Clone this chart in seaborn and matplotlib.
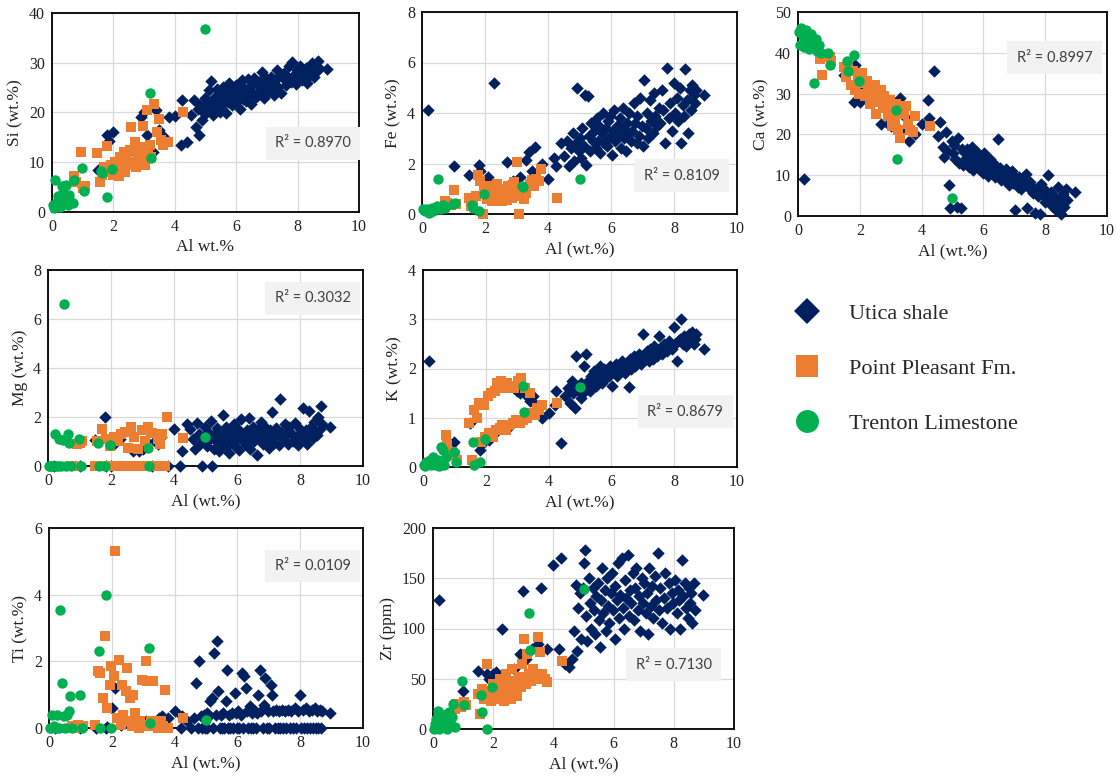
import pandas as pd
import seaborn as sns
import matplotlib.pyplot as plt
from matplotlib.lines import Line2D

# Utica shale samples (Al first, then each element for the same samples)
utica_al = [0.2, 1.0, 1.5, 1.8, 1.85, 2.0, 2.1, 2.3, 2.7, 2.9, 3.0, 3.1, 3.3, 3.4, 3.5, 3.6, 3.8, 4.0, 4.2, 4.25, 4.4,
            4.52, 4.61, 4.68, 4.74, 4.79, 4.83, 4.88, 4.93, 4.97, 5.02,
            5.04, 5.09, 5.13, 5.18, 5.21, 5.26, 5.31, 5.34, 5.38, 5.43,
            5.47, 5.52, 5.55, 5.58, 5.63, 5.66, 5.71, 5.74, 5.78, 5.83,
            5.86, 5.91, 5.94, 5.98, 6.03, 6.06, 6.11, 6.14, 6.19, 6.22,
            6.27, 6.31, 6.34, 6.39, 6.42, 6.47, 6.51, 6.55, 6.58, 6.63,
            6.67, 6.72, 6.76, 6.81, 6.84, 6.89, 6.93, 6.97, 7.02, 7.06,
            7.11, 7.14, 7.19, 7.23, 7.28, 7.32, 7.37, 7.41, 7.46, 7.51,
            7.55, 7.61, 7.66, 7.72, 7.78, 7.83, 7.88, 7.94, 7.99, 8.04,
            8.09, 8.13, 8.18, 8.22, 8.27, 8.31, 8.36, 8.41, 8.46, 8.51,
            8.55, 8.58, 8.62, 8.66, 8.71, 8.96]
utica_si = [1.5, 5.0, 8.5, 15.5, 14.2, 16.0, 9.0, 10.0, 12.0, 19.0, 20.0, 15.5, 12.0, 20.5, 16.5, 15.2, 19.0, 19.2, 13.5, 22.5, 14.0,
            19.5, 22.5, 17.0, 20.8, 15.5, 21.5, 18.5, 20.2, 23.0, 19.8,
            21.8, 20.5, 24.5, 26.3, 22.0, 19.5, 23.2, 21.0, 24.8, 22.6,
            20.2, 23.6, 21.5, 25.2, 22.9, 19.8, 24.0, 22.2, 26.0, 23.1,
            21.6, 24.6, 23.0, 25.5, 22.3, 24.2, 20.8, 23.8, 26.5, 22.7,
            25.0, 22.4, 24.4, 26.8, 23.5, 21.8, 25.6, 24.0, 27.0, 23.2,
            25.8, 23.6, 26.4, 24.5, 28.2, 22.9, 25.1, 27.0, 24.2, 26.2,
            24.6, 27.2, 25.9, 23.5, 26.6, 28.5, 25.2, 27.4, 24.0, 26.9,
            28.0, 25.6, 27.1, 29.3, 26.2, 30.2, 27.5, 25.8, 28.6, 27.0,
            29.4, 26.5, 28.3, 27.2, 29.0, 26.0, 28.7, 27.6, 30.0, 28.0,
            27.2, 29.5, 28.4, 30.3, 28.9, 28.7]
utica_fe = [4.1, 1.9, 1.55, 1.95, 1.7, 1.2, 1.45, 5.2, 2.05, 1.3, 1.2, 1.45, 2.15, 2.45, 1.7, 2.65, 2.0, 1.4, 2.2, 1.9, 2.8,
            2.3, 2.9, 1.9, 2.6, 3.2, 2.1, 2.8, 5.0, 2.5, 3.0,
            2.2, 3.4, 2.7, 4.7, 1.95, 4.68, 3.1, 2.5, 3.6, 2.9,
            3.3, 2.6, 3.8, 2.9, 3.5, 2.4, 3.2, 4.0, 2.8, 3.4,
            2.7, 3.7, 3.0, 3.9, 2.35, 3.3, 4.1, 2.9, 3.5, 3.15,
            3.8, 2.6, 3.4, 4.2, 3.0, 2.5, 3.6, 3.2, 4.0, 2.9,
            3.3, 4.4, 3.6, 2.8, 3.9, 3.1, 4.6, 3.5, 2.7, 5.3,
            3.4, 4.0, 3.0, 4.5, 3.7, 3.2, 4.8, 3.9, 3.5, 4.2,
            3.6, 4.9, 4.1, 2.8, 5.8, 3.8, 4.4, 3.3, 5.2, 4.0,
            4.6, 3.7, 5.0, 2.8, 4.3, 3.9, 5.75, 4.5, 3.2, 4.9,
            4.1, 5.1, 4.7, 4.4, 4.9, 4.7]
utica_ca = [9.0, 38.5, 34.5, 28.0, 37.0, 28.0, 32.0, 30.0, 22.5, 22.5, 22.0, 22.5, 29.0, 21.0, 24.0, 18.5, 20.0, 22.5, 28.5, 24.0, 35.5,
            19.5, 23.0, 17.0, 14.5, 20.5, 16.0, 7.5, 2.0, 18.5, 15.5,
            17.5, 14.0, 2.2, 19.0, 13.0, 2.0, 16.5, 12.5, 15.8, 14.2,
            16.5, 12.0, 15.2, 13.5, 17.0, 11.2, 14.5, 13.0, 15.8, 12.4,
            11.5, 14.8, 12.8, 10.5, 15.5, 12.0, 13.4, 9.8, 12.5, 14.0,
            10.8, 13.0, 11.5, 9.5, 12.2, 18.8, 10.0, 11.8, 8.8, 10.6,
            9.2, 11.4, 8.4, 10.5, 7.5, 9.8, 11.0, 8.0, 1.5, 9.4,
            7.2, 9.5, 8.1, 6.5, 8.8, 7.6, 10.2, 2.0, 6.8, 8.3,
            7.4, 5.6, 0.8, 6.6, 4.8, 0.5, 7.8, 5.2, 3.5, 6.2,
            10.0, 4.4, 6.0, 2.5, 5.0, 3.6, 1.5, 7.0, 4.2, 0.5,
            3.0, 5.4, 2.2, 6.5, 4.0, 6.0]
utica_mg = [0.0, 0.0, 1.05, 2.0, 0.0, 0.0, 0.9, 1.1, 0.6, 0.6, 0.7, 1.0, 0.0, 1.0, 0.9, 1.2, 0.0, 1.5, 0.0, 0.6, 1.7,
            1.5, 1.1, 0.7, 1.75, 1.3, 0.9, 0.0, 1.2, 1.6, 1.0,
            0.8, 1.4, 1.1, 1.85, 0.0, 0.7, 1.3, 1.0, 1.55, 0.6,
            1.2, 0.9, 2.1, 1.35, 0.75, 1.6, 1.1, 0.55, 1.4, 0.95,
            1.25, 1.7, 0.8, 1.05, 1.5, 0.65, 1.3, 1.9, 1.0, 1.2,
            0.85, 1.45, 1.15, 1.95, 0.7, 1.3, 1.6, 1.0, 1.25, 0.45,
            1.5, 1.1, 1.8, 0.9, 1.35, 1.6, 1.0, 1.25, 0.75, 1.45,
            2.2, 1.2, 0.95, 1.55, 1.3, 0.85, 2.75, 1.4, 1.1, 1.7,
            1.25, 0.9, 1.6, 1.35, 1.0, 1.75, 1.2, 0.85, 1.5, 1.3,
            2.35, 1.1, 1.45, 0.9, 2.25, 1.3, 1.6, 1.15, 1.8, 1.4,
            1.25, 2.0, 1.5, 2.45, 1.7, 1.6]
utica_k = [2.15, 0.5, 0.9, 0.35, 0.45, 0.6, 0.55, 0.7, 0.8, 1.6, 1.55, 1.5, 1.45, 1.35, 1.45, 1.25, 1.0, 1.1, 1.25, 1.55, 0.48,
           1.45, 1.6, 1.3, 1.75, 1.5, 1.2, 2.25, 1.65, 1.55, 1.4,
           1.7, 1.5, 2.05, 2.3, 1.6, 1.75, 1.55, 1.85, 1.7, 1.95,
           1.8, 1.65, 1.95, 1.75, 2.05, 1.85, 1.7, 1.9, 2.0, 1.8,
           1.95, 1.85, 2.05, 1.9, 1.65, 2.0, 1.95, 2.1, 1.85, 2.0,
           2.05, 1.95, 2.15, 2.0, 1.9, 2.1, 2.05, 1.62, 2.2, 2.0,
           2.1, 2.25, 2.05, 2.2, 2.15, 2.3, 2.1, 2.2, 2.7, 2.25,
           2.2, 2.35, 2.15, 2.4, 2.3, 2.2, 2.45, 2.35, 2.25, 2.65,
           2.4, 2.3, 2.5, 2.45, 2.35, 2.55, 2.5, 2.4, 2.85, 2.5,
           2.15, 2.55, 2.6, 3.0, 2.5, 2.65, 2.45, 2.6, 2.7, 2.55,
           2.65, 2.75, 2.5, 2.6, 2.7, 2.4]
utica_ti = [0.0, 0.0, 0.0, 0.0, 0.02, 0.6, 1.2, 0.1, 0.2, 0.15, 0.1, 0.2, 0.1, 0.15, 0.3, 0.35, 0.3, 0.5, 0.0, 0.35, 0.2,
            0.0, 0.3, 1.35, 0.0, 2.0, 0.35, 0.0, 0.4, 0.0, 0.45,
            0.0, 0.35, 0.8, 0.9, 0.0, 2.25, 0.4, 2.6, 1.1, 0.0,
            0.4, 0.0, 0.45, 0.0, 0.8, 1.75, 0.0, 0.4, 0.0, 0.45,
            0.0, 1.05, 0.45, 0.0, 0.5, 0.0, 0.4, 1.65, 0.0, 1.55,
            1.2, 0.5, 0.0, 0.65, 0.0, 0.45, 0.0, 0.5, 0.0, 0.45,
            1.0, 1.75, 0.5, 0.0, 0.7, 1.5, 0.0, 0.5, 0.0, 1.3,
            1.0, 0.5, 0.0, 0.55, 0.0, 0.5, 0.0, 0.55, 0.0, 0.5,
            0.0, 0.55, 0.0, 0.5, 0.0, 0.6, 0.0, 0.5, 1.0, 0.0,
            0.55, 0.0, 0.6, 0.0, 0.5, 0.0, 0.55, 0.0, 0.6, 0.0,
            0.5, 0.0, 0.55, 0.0, 0.5, 0.45]
utica_zr = [128, 38, 58, 55, 50, 55, 57, 100, 60, 75, 137, 70, 80, 55, 85, 140, 80, 163, 80, 170, 65,
            62, 70, 98, 143, 78, 120, 135, 90, 140, 165,
            178, 112, 88, 150, 125, 100, 140, 118, 95, 132,
            145, 108, 82, 128, 160, 115, 138, 98, 150, 122,
            105, 135, 155, 118, 90, 142, 128, 165, 110, 133,
            170, 120, 100, 148, 130, 173, 112, 138, 125, 155,
            108, 140, 160, 118, 132, 98, 150, 125, 145, 115,
            135, 95, 160, 122, 142, 110, 152, 128, 175, 118,
            140, 105, 130, 155, 120, 145, 100, 135, 125, 148,
            115, 138, 128, 100, 168, 132, 145, 120, 110, 140,
            125, 135, 105, 145, 118, 133]

# Point Pleasant Fm. samples
pp_al = [0.72, 0.78, 0.93, 1.02, 1.08, 1.48, 1.56, 1.62, 1.71, 1.78, 1.84, 1.93, 1.98, 2.06, 2.11, 2.17, 2.22, 2.28,
         2.33, 2.37, 2.44, 2.49, 2.53, 2.58, 2.63, 2.69, 2.74, 2.79, 2.86, 2.91, 2.97, 3.03, 3.08, 3.13, 3.18, 3.24,
         3.31, 3.42, 3.48, 3.56, 3.63, 3.71, 3.79, 4.27]
pp_si = [7.2, 6.0, 12.0, 4.8, 5.2, 11.8, 6.0, 7.5, 9.0, 13.2, 8.0, 9.5, 7.5, 10.0, 8.5, 7.2, 11.0, 9.0, 12.0, 8.0,
         10.5, 9.5, 12.5, 17.0, 10.0, 14.0, 9.0, 11.5, 13.0, 10.5, 17.2, 9.5, 20.5, 12.0, 13.5, 11.0, 21.7, 16.0,
         18.7, 14.5, 13.5, 14.0, 14.0, 20.0]
pp_fe = [0.5, 0.45, 0.35, 0.95, 0.4, 0.65, 0.3, 0.55, 0.7, 1.55, 1.3, 0.0, 1.0, 0.6, 0.8, 1.1, 0.5, 0.9, 0.7, 1.2,
         0.6, 0.85, 0.5, 1.0, 0.75, 0.55, 1.1, 0.8, 0.65, 1.25, 0.9, 2.05, 0.0, 0.7, 1.0, 0.6, 0.85, 1.2, 1.35, 1.1,
         1.4, 1.3, 1.8, 0.65]
pp_ca = [38.5, 34.5, 39.5, 39.0, 38.0, 36.5, 34.0, 37.0, 32.0, 35.5, 31.0, 33.5, 30.0, 35.0, 32.5, 29.5, 33.0, 30.5,
         27.5, 31.5, 29.0, 32.0, 25.0, 30.0, 28.0, 31.0, 26.5, 29.5, 27.0, 24.5, 28.5, 22.0, 26.0, 23.5, 27.5, 21.0,
         19.0, 25.0, 27.0, 22.5, 21.0, 20.5, 24.5, 22.0]
pp_mg = [0.0, 0.0, 0.9, 0.95, 1.0, 0.0, 1.0, 0.0, 1.5, 0.0, 1.1, 0.0, 0.8, 0.0, 1.2, 0.0, 1.0, 0.0, 1.3, 0.0,
         1.4, 0.0, 0.75, 0.0, 1.6, 0.0, 1.2, 0.0, 0.7, 0.0, 1.45, 0.0, 1.0, 0.0, 1.6, 0.0, 1.35, 0.0, 1.1, 0.9,
         1.3, 0.0, 2.0, 1.15]
pp_k = [0.65, 0.45, 0.3, 0.25, 0.15, 0.9, 0.15, 1.15, 1.0, 1.3, 0.5, 1.25, 0.6, 1.45, 0.7, 1.5, 0.6, 1.55, 0.75, 1.7,
        0.8, 1.75, 0.85, 1.6, 0.75, 1.7, 0.85, 1.65, 0.9, 1.6, 0.95, 1.75, 0.9, 1.8, 0.95, 1.6, 1.0, 1.5, 1.1, 1.05,
        1.2, 1.15, 1.25, 1.3]
pp_ti = [0.05, 0.0, 0.1, 0.0, 0.05, 0.1, 1.7, 1.65, 0.9, 2.75, 0.6, 1.3, 1.85, 1.55, 5.3, 0.3, 2.05, 0.1, 1.3, 0.4,
         1.1, 1.8, 0.2, 0.9, 0.05, 1.0, 0.45, 0.15, 0.0, 0.2, 1.45, 0.1, 2.0, 1.4, 0.05, 0.2, 1.4, 0.1, 0.0, 0.2,
         0.05, 1.15, 0.0, 0.3]
pp_zr = [20, 25, 22, 27, 24, 35, 15, 40, 30, 65, 38, 28, 45, 33, 40, 30, 50, 35, 42, 28,
         55, 38, 45, 30, 60, 40, 48, 33, 52, 42, 65, 90, 45, 75, 55, 48, 60, 50, 92, 77,
         55, 50, 47, 68]

# Trenton Limestone samples
tr_al = [0.02, 0.06, 0.11, 0.17, 0.21, 0.26, 0.31, 0.36, 0.42, 0.47, 0.52, 0.57, 0.63, 0.68, 0.73, 0.98, 1.04,
         1.58, 1.63, 1.8, 1.96, 3.18, 3.21, 5.0]
tr_si = [1.5, 0.8, 6.5, 2.0, 3.2, 1.0, 5.2, 4.0, 2.5, 5.5, 1.5, 3.5, 2.0, 1.8, 6.5, 8.8, 4.2, 8.2, 7.8, 3.0, 8.7,
         24.0, 10.8, 36.8]
tr_fe = [0.2, 0.15, 0.1, 0.2, 0.05, 0.15, 0.25, 0.1, 0.2, 0.3, 1.4, 0.2, 0.3, 0.35, 0.25, 0.4, 0.45, 0.35, 0.25,
         0.1, 0.8, 1.1, 1.05, 1.4]
tr_ca = [45.0, 42.0, 46.0, 44.0, 41.5, 45.5, 43.0, 41.0, 44.5, 42.5, 32.5, 43.5, 40.5, 42.0, 40.0, 40.0, 37.0,
         38.0, 35.5, 39.5, 33.0, 26.0, 14.0, 4.5]
tr_mg = [0.0, 0.0, 0.0, 0.0, 1.3, 0.0, 0.0, 1.1, 0.0, 1.05, 6.6, 0.0, 1.3, 0.95, 0.0, 1.1, 0.0, 0.95, 0.0, 0.0,
         0.85, 0.75, 0.0, 1.2]
tr_k = [0.05, 0.03, 0.1, 0.08, 0.15, 0.05, 0.2, 0.1, 0.05, 0.15, 0.02, 0.4, 0.35, 0.05, 0.2, 0.3, 0.1, 0.5, 0.05,
        0.1, 0.57, 1.65, 1.12, 1.62]
tr_ti = [0.0, 0.0, 0.4, 0.05, 0.0, 0.4, 0.0, 3.55, 1.35, 0.35, 0.0, 0.4, 0.5, 0.95, 0.0, 1.0, 0.0, 2.3, 0.0, 4.0,
         0.0, 2.4, 0.15, 0.25]
tr_zr = [0, 5, 10, 18, 0, 12, 3, 8, 15, 0, 17, 6, 12, 25, 2, 48, 24, 34, 17, 0, 42, 115, 79, 139]

formations = ["Utica shale", "Point Pleasant Fm.", "Trenton Limestone"]
elements = ["Si", "Fe", "Ca", "Mg", "K", "Ti", "Zr"]
y_labels = ["Si (wt.%)", "Fe (wt.%)", "Ca (wt.%)", "Mg (wt.%)", "K (wt.%)", "Ti (wt.%)", "Zr (ppm)"]
x_labels = ["Al wt.%", "Al (wt.%)", "Al (wt.%)", "Al (wt.%)", "Al (wt.%)", "Al (wt.%)", "Al (wt.%)"]
y_max = [40, 8, 50, 8, 4, 6, 200]
y_step = [10, 2, 10, 2, 1, 2, 50]
r2_values = ["0.8970", "0.8109", "0.8997", "0.3032", "0.8679", "0.0109", "0.7130"]

utica = pd.DataFrame({"Al": utica_al, "Si": utica_si, "Fe": utica_fe, "Ca": utica_ca, "Mg": utica_mg,
                      "K": utica_k, "Ti": utica_ti, "Zr": utica_zr})
pp = pd.DataFrame({"Al": pp_al, "Si": pp_si, "Fe": pp_fe, "Ca": pp_ca, "Mg": pp_mg,
                   "K": pp_k, "Ti": pp_ti, "Zr": pp_zr})
tr = pd.DataFrame({"Al": tr_al, "Si": tr_si, "Fe": tr_fe, "Ca": tr_ca, "Mg": tr_mg,
                   "K": tr_k, "Ti": tr_ti, "Zr": tr_zr})
utica["Formation"] = formations[0]
pp["Formation"] = formations[1]
tr["Formation"] = formations[2]
df = pd.concat([utica, pp, tr], ignore_index=True)

colors = {"Utica shale": "#002060", "Point Pleasant Fm.": "#ED7D31", "Trenton Limestone": "#00B050"}
markers = {"Utica shale": "D", "Point Pleasant Fm.": "s", "Trenton Limestone": "o"}
sizes = {"Utica shale": 40, "Point Pleasant Fm.": 50, "Trenton Limestone": 56}

sns.set_theme(style="whitegrid")
plt.rcParams["font.family"] = ["Liberation Serif", "DejaVu Serif"]

W, H = 1117, 779
fig = plt.figure(figsize=(W / 100, H / 100), dpi=100)
fig.patch.set_facecolor("white")

# axes boxes in pixels: left, top, right, bottom
boxes = [(52, 13, 359, 212), (422, 12, 737, 214), (798, 12, 1107, 216),
         (48, 270, 363, 466), (423, 270, 737, 467),
         (49, 528, 363, 728), (433, 528, 734, 729)]
r2_pos = [(0.85, 0.345), (0.825, 0.19), (0.83, 0.775), (0.84, 0.857), (0.835, 0.28), (0.84, 0.81), (0.80, 0.32)]

for i, el in enumerate(elements):
    l, t, r, b = boxes[i]
    ax = fig.add_axes([l / W, 1 - b / H, (r - l) / W, (b - t) / H])
    for fm in formations:
        sub = df[df["Formation"] == fm]
        sns.scatterplot(data=sub, x="Al", y=el, ax=ax, color=colors[fm], marker=markers[fm],
                        s=sizes[fm], linewidth=0, legend=False, clip_on=False, zorder=3)
    ax.set_xlim(0, 10)
    ax.set_ylim(0, y_max[i])
    ax.set_xticks(range(0, 11, 2))
    ax.set_yticks(range(0, y_max[i] + 1, y_step[i]))
    ax.grid(True, color="#d9d9d9", linewidth=0.9)
    ax.set_axisbelow(True)
    for sp in ax.spines.values():
        sp.set_color("black")
        sp.set_linewidth(1.3)
    ax.tick_params(length=0, labelsize=11.5, colors="#222222", pad=5)
    ax.set_xlabel(x_labels[i], fontsize=12.5, color="#222222", labelpad=3)
    ax.set_ylabel(y_labels[i], fontsize=12.5, color="#222222", labelpad=4)
    ax.text(r2_pos[i][0], r2_pos[i][1], "R² = " + r2_values[i], transform=ax.transAxes,
            ha="center", va="center", fontsize=10.5, family="Lato", color="#404040", zorder=5,
            bbox=dict(boxstyle="square,pad=0.65", facecolor="#f2f2f2", edgecolor="none"))

handles = [Line2D([], [], linestyle="none", marker=markers[fm], color=colors[fm],
                  markersize=ms, markeredgewidth=0)
           for fm, ms in zip(formations, [13.5, 16.5, 16.5])]
fig.legend(handles, formations, loc="upper left", bbox_to_anchor=(778 / W, 1 - 292 / H),
           frameon=False, fontsize=16, labelspacing=1.55, handletextpad=1.1, borderpad=0,
           handlelength=1.6)

fig.savefig("out.png", dpi=100, facecolor="white")
